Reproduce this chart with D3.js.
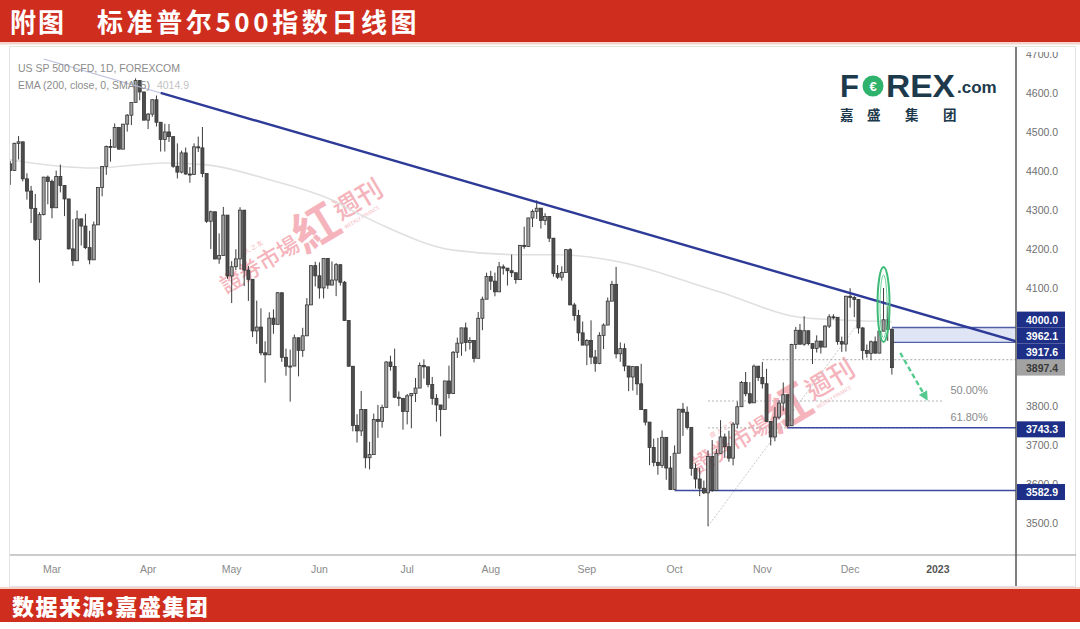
<!DOCTYPE html>
<html><head><meta charset="utf-8">
<script src="https://cdn.jsdelivr.net/npm/d3@7"></script>
<style>
html,body{margin:0;padding:0;background:#fff;}
svg{display:block;}
</style></head><body>
<svg id="c" width="1080" height="629"></svg>
<script>
// ---------------- DATA ----------------
const dates = [
"2022-02-14","2022-02-15","2022-02-16","2022-02-17","2022-02-18","2022-02-22","2022-02-23","2022-02-24","2022-02-25","2022-02-28",
"2022-03-01","2022-03-02","2022-03-03","2022-03-04","2022-03-07","2022-03-08","2022-03-09","2022-03-10","2022-03-11","2022-03-14","2022-03-15","2022-03-16","2022-03-17","2022-03-18","2022-03-21","2022-03-22","2022-03-23","2022-03-24","2022-03-25","2022-03-28","2022-03-29","2022-03-30","2022-03-31",
"2022-04-01","2022-04-04","2022-04-05","2022-04-06","2022-04-07","2022-04-08","2022-04-11","2022-04-12","2022-04-13","2022-04-14","2022-04-18","2022-04-19","2022-04-20","2022-04-21","2022-04-22","2022-04-25","2022-04-26","2022-04-27","2022-04-28","2022-04-29",
"2022-05-02","2022-05-03","2022-05-04","2022-05-05","2022-05-06","2022-05-09","2022-05-10","2022-05-11","2022-05-12","2022-05-13","2022-05-16","2022-05-17","2022-05-18","2022-05-19","2022-05-20","2022-05-23","2022-05-24","2022-05-25","2022-05-26","2022-05-27","2022-05-31",
"2022-06-01","2022-06-02","2022-06-03","2022-06-06","2022-06-07","2022-06-08","2022-06-09","2022-06-10","2022-06-13","2022-06-14","2022-06-15","2022-06-16","2022-06-17","2022-06-21","2022-06-22","2022-06-23","2022-06-24","2022-06-27","2022-06-28","2022-06-29","2022-06-30",
"2022-07-01","2022-07-05","2022-07-06","2022-07-07","2022-07-08","2022-07-11","2022-07-12","2022-07-13","2022-07-14","2022-07-15","2022-07-18","2022-07-19","2022-07-20","2022-07-21","2022-07-22","2022-07-25","2022-07-26","2022-07-27","2022-07-28","2022-07-29",
"2022-08-01","2022-08-02","2022-08-03","2022-08-04","2022-08-05","2022-08-08","2022-08-09","2022-08-10","2022-08-11","2022-08-12","2022-08-15","2022-08-16","2022-08-17","2022-08-18","2022-08-19","2022-08-22","2022-08-23","2022-08-24","2022-08-25","2022-08-26","2022-08-29","2022-08-30","2022-08-31",
"2022-09-01","2022-09-02","2022-09-06","2022-09-07","2022-09-08","2022-09-09","2022-09-12","2022-09-13","2022-09-14","2022-09-15","2022-09-16","2022-09-19","2022-09-20","2022-09-21","2022-09-22","2022-09-23","2022-09-26","2022-09-27","2022-09-28","2022-09-29","2022-09-30",
"2022-10-03","2022-10-04","2022-10-05","2022-10-06","2022-10-07","2022-10-10","2022-10-11","2022-10-12","2022-10-13","2022-10-14","2022-10-17","2022-10-18","2022-10-19","2022-10-20","2022-10-21","2022-10-24","2022-10-25","2022-10-26","2022-10-27","2022-10-28","2022-10-31",
"2022-11-01","2022-11-02","2022-11-03","2022-11-04","2022-11-07","2022-11-08","2022-11-09","2022-11-10","2022-11-11","2022-11-14","2022-11-15","2022-11-16","2022-11-17","2022-11-18","2022-11-21","2022-11-22","2022-11-23","2022-11-25","2022-11-28","2022-11-29","2022-11-30",
"2022-12-01","2022-12-02","2022-12-05","2022-12-06","2022-12-07","2022-12-08","2022-12-09","2022-12-12","2022-12-13","2022-12-14","2022-12-15"
];
const futureDates = [
"2022-12-16","2022-12-19","2022-12-20","2022-12-21","2022-12-22","2022-12-23","2022-12-27","2022-12-28","2022-12-29","2022-12-30",
"2023-01-03","2023-01-04","2023-01-05","2023-01-06","2023-01-09","2023-01-10","2023-01-11","2023-01-12","2023-01-13","2023-01-17",
"2023-01-18","2023-01-19","2023-01-20","2023-01-23","2023-01-24","2023-01-25","2023-01-26","2023-01-27","2023-01-30"
];
const open = [
4418.6,4401.7,4471.1,4475.0,4380.3,4348.9,4304.8,4225.5,4288.7,4384.7,
4373.9,4306.3,4386.5,4363.5,4328.9,4201.1,4170.7,4277.9,4259.5,4204.3,4173.1,4262.5,4357.9,4411.7,4463.1,4461.2,4511.6,4456.2,4520.2,4543.1,4575.5,4631.6,4602.5,
4530.4,4545.9,4582.6,4525.1,4481.2,4500.2,4488.3,4412.5,4397.5,4446.6,4392.6,4391.7,4462.2,4459.5,4393.7,4271.8,4296.1,4175.2,4184.0,4287.5,
4131.9,4155.4,4175.5,4300.2,4146.9,4123.3,3991.2,4001.1,3935.2,3930.1,4023.9,4008.0,4088.9,3923.7,3900.8,3901.4,3973.8,3941.5,3978.7,4057.8,4158.2,
4132.2,4101.2,4176.8,4108.5,4121.4,4160.7,4115.8,4017.8,3900.9,3749.6,3735.5,3790.0,3666.8,3674.8,3764.8,3759.9,3795.7,3911.7,3900.1,3821.6,3818.8,
3785.4,3825.3,3831.4,3845.1,3902.6,3899.4,3854.4,3818.8,3801.8,3790.4,3863.2,3830.9,3936.7,3959.9,3999.0,3961.6,3966.8,3921.1,4023.6,4072.4,
4130.3,4118.6,4091.2,4155.2,4151.9,4145.2,4140.1,4122.5,4210.2,4207.3,4280.2,4297.1,4305.2,4274.0,4283.7,4228.5,4138.0,4128.7,4140.8,4199.1,4057.7,4030.6,3986.2,
3955.0,3966.9,3924.3,3908.2,3979.9,4006.2,4067.4,4110.4,3932.7,3946.0,3901.4,3873.3,3899.9,3855.9,3789.9,3758.0,3693.2,3655.0,3647.3,3719.0,3640.5,
3585.6,3678.4,3790.9,3783.3,3744.5,3639.7,3612.4,3588.8,3577.0,3669.9,3583.1,3678.0,3720.0,3695.2,3665.8,3752.8,3797.3,3859.1,3830.6,3807.3,3901.1,
3872.0,3856.1,3759.7,3719.9,3770.6,3806.8,3828.1,3748.6,3956.4,3992.9,3957.3,3991.7,3958.8,3946.6,3965.3,3949.9,4003.6,4027.3,4026.1,3963.9,3957.6,
4080.1,4076.6,4071.7,3998.8,3941.3,3933.9,3963.5,3934.4,3990.6,4019.7,3995.3
];
const high = [
4426.2,4472.8,4489.6,4475.0,4394.6,4362.1,4341.5,4294.7,4385.3,4388.8,
4378.5,4401.5,4416.8,4363.5,4328.9,4276.9,4299.4,4278.0,4291.0,4247.6,4271.1,4357.9,4412.7,4465.4,4481.8,4522.0,4511.6,4520.6,4546.0,4575.7,4637.3,4631.6,4603.1,
4548.7,4583.5,4593.5,4525.1,4521.2,4520.4,4488.3,4471.0,4452.4,4460.5,4410.3,4471.0,4488.3,4512.9,4393.7,4299.0,4296.1,4240.7,4308.5,4287.5,
4169.8,4200.1,4307.7,4300.2,4157.7,4123.3,4068.8,4049.1,3964.8,4038.9,4046.5,4090.7,4088.9,3946.0,3943.4,3981.9,3973.8,3999.3,4075.1,4158.5,4168.3,
4166.5,4177.5,4176.8,4168.8,4164.9,4160.7,4119.1,4017.8,3900.9,3778.2,3837.6,3790.0,3707.7,3779.7,3801.8,3802.6,3913.7,3927.7,3945.9,3836.5,3819.0,
3829.8,3832.2,3870.9,3910.6,3918.5,3899.4,3873.4,3829.4,3801.8,3863.6,3902.4,3939.8,3974.1,3999.3,4012.4,3975.3,3966.8,4039.6,4079.0,4140.2,
4145.0,4140.5,4167.7,4161.3,4151.9,4186.6,4140.1,4211.0,4257.9,4280.5,4301.8,4325.3,4305.2,4292.5,4283.7,4228.5,4159.8,4156.6,4200.5,4203.0,4063.0,4045.0,4015.4,
3970.2,4018.4,3942.6,3987.9,4010.5,4076.8,4119.3,4155.0,3961.9,3959.1,3901.4,3900.5,3899.9,3907.1,3790.3,3758.0,3715.7,3717.5,3736.7,3719.0,3671.4,
3698.4,3791.9,3806.9,3797.9,3744.5,3652.2,3640.7,3608.3,3685.4,3712.0,3689.7,3762.8,3728.6,3736.0,3757.9,3810.7,3862.9,3886.2,3860.0,3905.4,3901.1,
3911.8,3894.4,3759.7,3796.3,3814.0,3859.4,3828.1,3958.3,4001.5,4009.0,4028.8,3991.7,3958.8,3979.9,3965.3,4005.9,4033.8,4034.0,4026.1,3976.8,4080.1,
4100.5,4080.5,4071.7,4001.5,3956.4,3966.7,3977.0,3990.7,4101.0,4053.8,3998.0
];
const low = [
4364.8,4401.7,4429.7,4373.8,4327.2,4267.1,4221.5,4114.7,4286.8,4315.1,
4279.5,4306.3,4345.6,4285.0,4199.9,4157.9,4170.7,4209.8,4200.5,4161.7,4173.1,4262.5,4335.7,4390.6,4424.3,4461.2,4455.8,4456.2,4501.1,4517.7,4575.5,4581.3,4530.4,
4507.6,4539.2,4514.2,4450.0,4450.3,4474.6,4408.4,4381.3,4394.3,4390.8,4370.3,4390.6,4448.8,4384.5,4267.6,4200.8,4175.0,4162.9,4184.0,4124.3,
4062.5,4147.1,4148.9,4106.0,4067.9,3975.5,3958.2,3928.8,3858.9,3930.1,3984.0,4008.0,3911.9,3876.6,3810.3,3901.4,3875.1,3925.0,3978.7,4057.8,4104.9,
4073.9,4074.4,4098.7,4108.5,4080.2,4107.2,4017.2,3900.2,3734.3,3705.7,3722.3,3639.8,3636.9,3674.8,3717.7,3743.5,3795.7,3889.7,3820.1,3799.0,3738.7,
3752.1,3742.1,3809.4,3845.1,3869.3,3847.2,3802.4,3759.1,3721.6,3790.4,3818.6,3830.9,3922.0,3927.6,3938.9,3943.5,3910.7,3921.1,3993.0,4072.4,
4096.0,4079.8,4091.2,4135.4,4107.3,4129.0,4112.1,4122.5,4201.4,4207.3,4256.9,4277.8,4253.1,4262.0,4218.7,4129.9,4124.0,4120.0,4140.8,4057.7,4017.4,3965.2,3954.5,
3903.7,3906.2,3886.8,3906.0,3944.8,4006.2,4067.4,3921.1,3912.2,3888.3,3837.1,3838.5,3827.5,3789.5,3749.5,3647.5,3644.8,3623.3,3640.6,3610.4,3584.1,
3585.6,3678.4,3722.7,3739.2,3620.7,3588.1,3568.5,3573.9,3491.6,3579.7,3583.1,3678.0,3666.5,3656.4,3647.4,3741.7,3797.3,3824.1,3803.8,3807.3,3863.2,
3843.8,3758.7,3698.2,3708.8,3764.7,3786.3,3744.2,3748.6,3944.8,3956.4,3953.2,3954.3,3906.5,3936.0,3933.3,3949.9,3998.7,4020.8,3955.8,3937.7,3938.6,
4050.9,4026.6,3984.5,3918.4,3922.7,3916.5,3933.0,3934.4,3990.6,3965.7,3879.5
];
const close = [
4401.7,4471.1,4475.0,4380.3,4348.9,4304.8,4225.5,4288.7,4384.7,4373.9,
4306.3,4386.5,4363.5,4328.9,4201.1,4170.7,4277.9,4259.5,4204.3,4173.1,4262.5,4357.9,4411.7,4463.1,4461.2,4511.6,4456.2,4520.2,4543.1,4575.5,4631.6,4602.5,4530.4,
4545.9,4582.6,4525.1,4481.2,4500.2,4488.3,4412.5,4397.5,4446.6,4392.6,4391.7,4462.2,4459.5,4393.7,4271.8,4296.1,4175.2,4184.0,4287.5,4131.9,
4155.4,4175.5,4300.2,4146.9,4123.3,3991.2,4001.1,3935.2,3930.1,4023.9,4008.0,4088.9,3923.7,3900.8,3901.4,3973.8,3941.5,3978.7,4057.8,4158.2,4132.2,
4101.2,4176.8,4108.5,4121.4,4160.7,4115.8,4017.8,3900.9,3749.6,3735.5,3790.0,3666.8,3674.8,3764.8,3759.9,3795.7,3911.7,3900.1,3821.6,3818.8,3785.4,
3825.3,3831.4,3845.1,3902.6,3899.4,3854.4,3818.8,3801.8,3790.4,3863.2,3830.9,3936.7,3959.9,3999.0,3961.6,3966.8,3921.1,4023.6,4072.4,4130.3,
4118.6,4091.2,4155.2,4151.9,4145.2,4140.1,4122.5,4210.2,4207.3,4280.2,4297.1,4305.2,4274.0,4283.7,4228.5,4138.0,4128.7,4140.8,4199.1,4057.7,4030.6,3986.2,3955.0,
3966.9,3924.3,3908.2,3979.9,4006.2,4067.4,4110.4,3932.7,3946.0,3901.4,3873.3,3899.9,3855.9,3789.9,3758.0,3693.2,3655.0,3647.3,3719.0,3640.5,3585.6,
3678.4,3790.9,3783.3,3744.5,3639.7,3612.4,3588.8,3577.0,3669.9,3583.1,3678.0,3720.0,3695.2,3665.8,3752.8,3797.3,3859.1,3830.6,3807.3,3901.1,3872.0,
3856.1,3759.7,3719.9,3770.6,3806.8,3828.1,3748.6,3956.4,3992.9,3957.3,3991.7,3958.8,3946.6,3965.3,3949.9,4003.6,4027.3,4026.1,3963.9,3957.6,4080.1,
4076.6,4071.7,3998.8,3941.3,3933.9,3963.5,3934.4,3990.6,4019.7,3995.3,3897.4
];
// EMA(200): anchor dates and values
const emaDates = ["2022-02-14","2022-02-17","2022-03-15","2022-04-07","2022-04-22","2022-05-13","2022-06-06","2022-06-14","2022-06-24","2022-07-19","2022-08-11","2022-08-23","2022-09-15","2022-10-07","2022-10-18","2022-11-15","2022-12-15"];
const emaValues = [4429,4424,4408,4421,4416,4378,4326,4293,4257,4198,4186,4186,4165,4114,4090,4025,4014.9];

const priceTicks = [4700,4600,4500,4400,4300,4200,4100,4000,3900,3800,3700,3600,3500];
const monthLabels = ["Mar","Apr","May","Jun","Jul","Aug","Sep","Oct","Nov","Dec","2023"];
const monthDates = ["2022-03-01","2022-04-01","2022-05-02","2022-06-01","2022-07-01","2022-08-01","2022-09-01","2022-10-03","2022-11-01","2022-12-01","2023-01-03"];

// trendline: start (faded under legend), fade end, solid end
const trendDates = ["2022-02-25","2022-04-06","2023-01-30"];
const trendValues = [4709,4600,3967];

const zoneTop = 4000.0, zoneBottom = 3962.1, zoneStart = "2022-12-15";
const dottedLevel = 3917.6, dottedStart = "2022-11-01";
const lastPrice = 3897.4;
const supportLevels = [3743.3, 3582.9];
const supportStarts = ["2022-11-09","2022-10-03"];
const fibLabels = ["50.00%","61.80%"];
const fibValues = [3812, 3743.3];
const fibStart = "2022-10-13", fibEnd = "2023-01-04", fibLabelDate = "2023-01-06";
const diagDates = ["2022-10-13","2022-12-05"], diagValues = [3491.6, 4012];
const ellipseDate = "2022-12-13", ellipseValue = 4059, ellipseValueHalf = 96;
const arrowDates = ["2022-12-19","2022-12-28"], arrowValues = [3935, 3823];

// ---------------- DRAW ----------------
const svg = d3.select('#c');
const W = 1080, H = 629;
const P = {l:10, r:1016, t:47, b:555};
const allDates = dates.concat(futureDates);
const idx = d => allDates.indexOf(d);
const x = d3.scaleLinear().domain([-0.05, allDates.length - 0.3]).range([P.l, P.r]);
const y = d3.scaleLinear().domain([3418, 4715]).range([P.b, 48]);
const pxPerIdx = x(1) - x(0);

svg.append('rect').attr('width',W).attr('height',H).attr('fill','#ffffff');
// top banner
svg.append('rect').attr('x',0).attr('y',0).attr('width',W).attr('height',42).attr('fill','#cf2e1f');
svg.append('rect').attr('x',0).attr('y',42).attr('width',W).attr('height',2.5).attr('fill','#f4d3cc');
const tfont = '"Noto Sans CJK SC","Noto Sans CJK TC",sans-serif';
svg.append('text').attr('x',10).attr('y',32).attr('fill','#fff').attr('font-family',tfont)
  .attr('font-weight',700).attr('font-size',26).attr('letter-spacing',2).text('附图');
svg.append('text').attr('x',97).attr('y',32).attr('fill','#fff').attr('font-family',tfont)
  .attr('font-weight',700).attr('font-size',26).attr('letter-spacing',3.6).text('标准普尔500指数日线图');

svg.append('rect').attr('x',9.5).attr('y',46.5).attr('width',1066).attr('height',540)
  .attr('fill','none').attr('stroke','#e4e4e4').attr('stroke-width',1);

const defs = svg.append('defs');
defs.append('clipPath').attr('id','clipPlot').append('rect')
  .attr('x',P.l).attr('y',P.t).attr('width',P.r-P.l).attr('height',P.b-P.t);
defs.append('clipPath').attr('id','clipAxis').append('rect')
  .attr('x',P.r).attr('y',52).attr('width',W-P.r).attr('height',P.b-52);
defs.append('marker').attr('id','arrowG').attr('viewBox','0 0 10 10').attr('refX',5).attr('refY',5)
  .attr('markerWidth',4).attr('markerHeight',4).attr('orient','auto')
  .append('path').attr('d','M0,0 L10,5 L0,10 z').attr('fill','#56c98f');

const plot = svg.append('g').attr('clip-path','url(#clipPlot)');

// watermarks
function watermark(tx, ty){
  const g = plot.append('g').attr('transform',`translate(${tx},${ty}) rotate(-31)`)
    .attr('fill','#ec6b7b').attr('opacity',0.5).attr('font-family','"Noto Sans CJK TC",sans-serif');
  g.append('text').attr('x',0).attr('y',0).attr('font-size',22).attr('font-weight',500).text('證券市場');
  g.append('text').attr('x',88).attr('y',6).attr('font-size',46).attr('font-weight',700).text('紅');
  g.append('text').attr('x',136).attr('y',-4).attr('font-size',26).attr('font-weight',500).text('週刊');
  g.append('text').attr('x',30).attr('y',-24).attr('font-size',6).text('證 人 之 友');
  g.append('text').attr('x',136).attr('y',6).attr('font-size',5).text('WEEKLY FINANCE');
}
watermark(226, 294);
watermark(698, 474);

// EMA 200
const emaPts = emaDates.map((d,i)=>[x(idx(d)), y(emaValues[i])]);
plot.append('path').attr('d', d3.line().curve(d3.curveMonotoneX)(emaPts))
  .attr('fill','none').attr('stroke','#e0e0e0').attr('stroke-width',1.6);

// fib diagonal
plot.append('line')
  .attr('x1',x(idx(diagDates[0]))).attr('y1',y(diagValues[0]))
  .attr('x2',x(idx(diagDates[1]))).attr('y2',y(diagValues[1]))
  .attr('stroke','#c8c8c8').attr('stroke-width',1).attr('stroke-dasharray','2,1.5');

fibValues.forEach(v=>{
  plot.append('line').attr('x1',x(idx(fibStart))).attr('x2',x(idx(fibEnd)))
    .attr('y1',y(v)).attr('y2',y(v)).attr('stroke','#b5b5b5').attr('stroke-width',1).attr('stroke-dasharray','2,2');
});
plot.append('line').attr('x1',x(idx(dottedStart))).attr('x2',P.r)
  .attr('y1',y(dottedLevel)).attr('y2',y(dottedLevel)).attr('stroke','#a8a8a8').attr('stroke-width',1).attr('stroke-dasharray','2,2');

// zone
plot.append('rect').attr('x',x(idx(zoneStart))).attr('width',P.r-x(idx(zoneStart)))
  .attr('y',y(zoneTop)).attr('height',y(zoneBottom)-y(zoneTop)).attr('fill','#dfe5f4');
[zoneTop, zoneBottom].forEach(v=>{
  plot.append('line').attr('x1',x(idx(zoneStart))).attr('x2',P.r).attr('y1',y(v)).attr('y2',y(v))
    .attr('stroke','#5060a8').attr('stroke-width',1.3);
});

supportLevels.forEach((v,i)=>{
  plot.append('line').attr('x1',x(idx(supportStarts[i]))).attr('x2',P.r).attr('y1',y(v)).attr('y2',y(v))
    .attr('stroke','#3b4aa0').attr('stroke-width',1.5);
});

// candles
const cdata = dates.map((d,i)=>({i, o:open[i], h:Math.max(high[i],open[i],close[i]), l:Math.min(low[i],open[i],close[i]), c:close[i]}));
const bw = 3.0;
const cg = plot.append('g').selectAll('g').data(cdata).join('g');
cg.append('line').attr('x1',d=>x(d.i)).attr('x2',d=>x(d.i)).attr('y1',d=>y(d.h)).attr('y2',d=>y(d.l))
  .attr('stroke','#3c3c3c').attr('stroke-width',1);
cg.append('rect').attr('x',d=>x(d.i)-bw/2).attr('width',bw)
  .attr('y',d=>y(Math.max(d.o,d.c))).attr('height',d=>Math.max(1,Math.abs(y(d.o)-y(d.c))))
  .attr('fill',d=>d.c>=d.o?'#a3a3a3':'#4d4d4d').attr('stroke','#353535').attr('stroke-width',0.8);

// trendline
const tp = trendDates.map((d,i)=>[x(idx(d)), y(trendValues[i])]);
const tSlope = (tp[2][1]-tp[1][1])/(tp[2][0]-tp[1][0]);
const tStartY = tp[1][1] + tSlope*(tp[0][0]-tp[1][0]);
plot.append('line').attr('x1',tp[0][0]).attr('y1',tStartY).attr('x2',tp[1][0]).attr('y2',tp[1][1])
  .attr('stroke','#b9bfdc').attr('stroke-width',1.2);
plot.append('line').attr('x1',tp[1][0]).attr('y1',tp[1][1]).attr('x2',tp[2][0]+pxPerIdx*0.7).attr('y2',tp[2][1]+tSlope*pxPerIdx*0.7)
  .attr('stroke','#2d3a97').attr('stroke-width',2.4);

// green ellipse
plot.append('ellipse').attr('cx',x(idx(ellipseDate))).attr('cy',y(ellipseValue))
  .attr('rx',6).attr('ry',y(ellipseValue-ellipseValueHalf)-y(ellipseValue))
  .attr('fill','none').attr('stroke','#3dbb77').attr('stroke-width',2);
plot.append('ellipse').attr('cx',x(idx(ellipseDate))).attr('cy',y(ellipseValue)+2)
  .attr('rx',3.5).attr('ry',y(ellipseValue-ellipseValueHalf)-y(ellipseValue)-6)
  .attr('fill','none').attr('stroke','#6fd29b').attr('stroke-width',1);

// green dashed arrow
plot.append('line').attr('x1',x(idx(arrowDates[0]))).attr('y1',y(arrowValues[0]))
  .attr('x2',x(idx(arrowDates[1]))).attr('y2',y(arrowValues[1]))
  .attr('stroke','#56c98f').attr('stroke-width',2.4).attr('stroke-dasharray','5,3')
  .attr('marker-end','url(#arrowG)');

fibValues.forEach((v,i)=>{
  plot.append('text').attr('x',x(idx(fibLabelDate))).attr('y',y(v)-7)
    .attr('font-family','"Liberation Sans",Arial,sans-serif').attr('font-size',11).attr('fill','#8a8a8a').text(fibLabels[i]);
});

// legend
const lf = '"Liberation Sans",Arial,sans-serif';
svg.append('text').attr('x',18).attr('y',72).attr('font-family',lf).attr('font-size',10.5).attr('fill','#8c8c8c')
  .text('US SP 500 CFD, 1D, FOREXCOM');
const lt = svg.append('text').attr('x',18).attr('y',89).attr('font-family',lf).attr('font-size',10.5).attr('fill','#8c8c8c');
lt.append('tspan').text('EMA (200, close, 0, SMA, 5)');
lt.append('tspan').attr('dx',7).attr('fill','#c2c2c2').text(emaValues[emaValues.length-1].toFixed(1));

// logo
const lc = '#1d3a4c';
svg.append('text').attr('x',840).attr('y',97).attr('font-family',lf).attr('font-weight',700).attr('font-size',31).attr('fill',lc).text('F');
svg.append('circle').attr('cx',873).attr('cy',86).attr('r',10.5).attr('fill','#2fb36c');
svg.append('text').attr('x',873).attr('y',91).attr('text-anchor','middle').attr('font-family',lf).attr('font-weight',700).attr('font-size',13).attr('fill','#fff').text('€');
svg.append('text').attr('x',886).attr('y',97).attr('font-family',lf).attr('font-weight',700).attr('font-size',31).attr('fill',lc)
  .attr('textLength',69).attr('lengthAdjust','spacingAndGlyphs').text('REX');
svg.append('text').attr('x',957).attr('y',93).attr('font-family',lf).attr('font-weight',700).attr('font-size',17).attr('fill',lc).text('.com');
const logoCN = ['嘉','盛','集','团'], logoCNx = [840,867,905,943];
logoCN.forEach((c,i)=>svg.append('text').attr('x',logoCNx[i]).attr('y',120).attr('font-family',tfont)
  .attr('font-weight',700).attr('font-size',13.5).attr('fill',lc).text(c));

// axes lines
svg.append('line').attr('x1',P.l).attr('x2',1076).attr('y1',P.b).attr('y2',P.b).attr('stroke','#9a9a9a').attr('stroke-width',1.2);
svg.append('line').attr('x1',P.r).attr('x2',P.r).attr('y1',47).attr('y2',586).attr('stroke','#555').attr('stroke-width',1.5);

// price label boxes (stacked upward from the last price to avoid overlap)
const boxH = 16;
const lastY = y(lastPrice);
const stack = [zoneTop, zoneBottom, dottedLevel];
let yy = lastY;
const stackY = [];
for (let k = stack.length-1; k>=0; k--){ yy = Math.min(y(stack[k]), yy - boxH); stackY[k] = yy; }
const boxes = stack.map((v,k)=>({v, cy:stackY[k], fill:'#1d2f86', txt:'#ffffff'}))
  .concat([{v:lastPrice, cy:lastY, fill:'#a2a2a2', txt:'#3a3a3a'}])
  .concat(supportLevels.map(v=>({v, cy:y(v)+1.5, fill:'#1d2f86', txt:'#ffffff'})));

// merge touching boxes into blocks
const spans = boxes.map(b=>[b.cy-boxH/2, b.cy+boxH/2]).sort((a,b)=>a[0]-b[0]);
const blocks = [];
spans.forEach(s=>{
  const last = blocks[blocks.length-1];
  if (last && s[0] <= last[1] + 0.5) last[1] = Math.max(last[1], s[1]); else blocks.push([s[0], s[1]]);
});

// price axis labels: hidden under a block, clipped where a block cuts them
const ax = svg.append('g').attr('clip-path','url(#clipAxis)');
priceTicks.forEach(v=>{
  const ty = y(v);
  if (blocks.some(b => ty > b[0] && ty < b[1])) return;
  const cut = blocks.find(b => b[0] > ty && b[0] < ty + 6);
  let node = ax;
  if (cut){
    const cid = 'cut'+v;
    defs.append('clipPath').attr('id',cid).append('rect').attr('x',P.r).attr('y',ty-10).attr('width',W-P.r).attr('height',cut[0]-(ty-10));
    node = ax.append('g').attr('clip-path',`url(#${cid})`);
  }
  node.append('text').attr('x',1026).attr('y',ty+4).attr('font-family',lf).attr('font-size',10.5).attr('fill','#6f6f6f').text(v.toFixed(1));
});

boxes.forEach(b=>{
  svg.append('rect').attr('x',P.r+1).attr('y',b.cy-boxH/2).attr('width',48).attr('height',boxH).attr('fill',b.fill);
  svg.append('text').attr('x',1026).attr('y',b.cy+4).attr('font-family',lf).attr('font-size',10.5)
    .attr('font-weight',700).attr('fill',b.txt).text(b.v.toFixed(1));
});

// time axis labels
monthLabels.forEach((m,i)=>{
  const isYear = m === '2023';
  svg.append('text').attr('x',x(idx(monthDates[i]))).attr('y',573).attr('text-anchor','middle')
    .attr('font-family',lf).attr('font-size',10.5).attr('fill',isYear?'#555':'#8a8a8a')
    .attr('font-weight',isYear?700:400).text(m);
});

// bottom banner
svg.append('rect').attr('x',0).attr('y',587).attr('width',W).attr('height',2).attr('fill','#f4d3cc');
svg.append('rect').attr('x',0).attr('y',589).attr('width',W).attr('height',33).attr('fill','#cf2e1f');
svg.append('text').attr('x',12).attr('y',615).attr('fill','#fff').attr('font-family',tfont)
  .attr('font-weight',900).attr('font-size',22).attr('letter-spacing',1.5).text('数据来源:嘉盛集团');
</script>
</body></html>
